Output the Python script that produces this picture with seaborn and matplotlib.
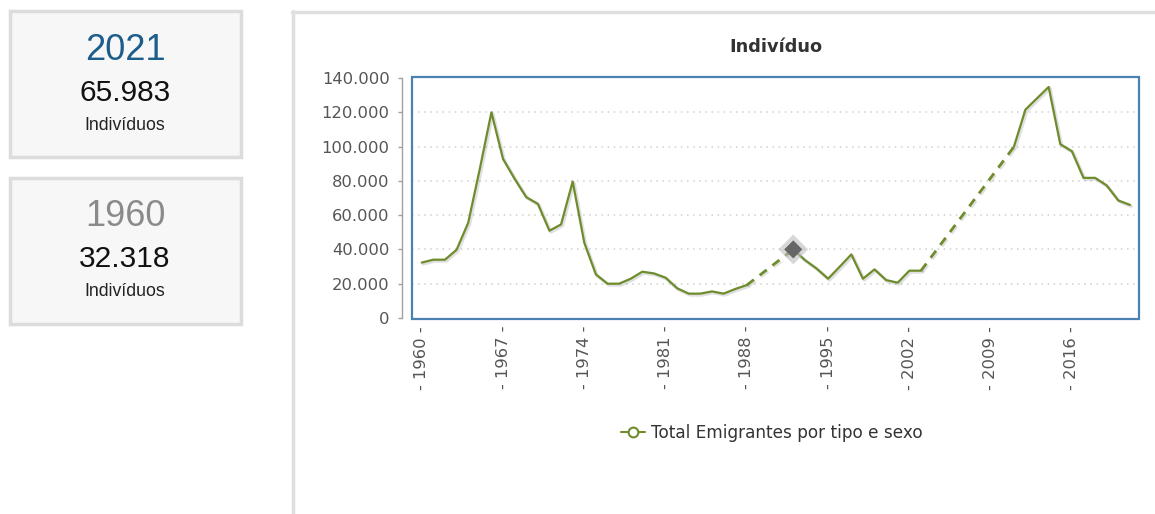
import numpy as np
import pandas as pd
import matplotlib
matplotlib.use("Agg")
import matplotlib.pyplot as plt
import matplotlib.patheffects as pe
from matplotlib.lines import Line2D
from matplotlib.patches import Rectangle
from matplotlib.ticker import FuncFormatter, FixedLocator
import seaborn as sns

# ---------------- data ----------------
years = list(range(1960, 2022))
values = [
    32318, 34000, 34000, 39800, 55500, 87000, 120000, 92800, 81200, 70500,   # 1960-1969
    66600, 50900, 54600, 79600, 43900, 25400, 20000, 20000, 22900, 27000,    # 1970-1979
    26000, 23500, 17300, 14200, 14200, 15500, 14200, 16900, 19200, np.nan,   # 1980-1989
    np.nan, np.nan, 40000, 33800, 28900, 22900, 29900, 37100, 22900, 28350,  # 1990-1999
    22100, 20600, 27600, 27600, np.nan, np.nan, np.nan, np.nan, np.nan, np.nan,  # 2000-2009
    np.nan, 99800, 121600, 128200, 134800, 101400, 97300, 81750, 81750, 77300,  # 2010-2019
    68550, 65983,                                                            # 2020-2021
]
xtick_years = [1960, 1967, 1974, 1981, 1988, 1995, 2002, 2009, 2016]
ytick_values = [0, 20000, 40000, 60000, 80000, 100000, 120000, 140000]
series_name = "Total Emigrantes por tipo e sexo"
title = "Indivíduo"
highlight_year = 1992
card_years = ["2021", "1960"]
card_values = ["65.983", "32.318"]
card_unit = "Indivíduos"

# ---------------- frames ----------------
df = pd.DataFrame({"year": years, "value": values})
df["seg"] = df["value"].isna().cumsum()
valid = df.dropna().reset_index(drop=True)

# dashed bridges across missing years (built from the data)
bridge_rows = []
gid = 0
for i in range(len(valid) - 1):
    if valid.loc[i + 1, "year"] - valid.loc[i, "year"] > 1:
        bridge_rows.append({"year": valid.loc[i, "year"], "value": valid.loc[i, "value"], "g": gid})
        bridge_rows.append({"year": valid.loc[i + 1, "year"], "value": valid.loc[i + 1, "value"], "g": gid})
        gid += 1
bridges = pd.DataFrame(bridge_rows)

# ---------------- style ----------------
sns.set_theme(style="white")
plt.rcParams["font.family"] = ["DejaVu Sans"]

GREEN = "#6f8c2c"
BLUE = "#4a82b4"
GRID = "#cfcfcf"
TXT = "#555555"

W, H = 1155, 514
fig = plt.figure(figsize=(W / 100, H / 100), dpi=100)
fig.patch.set_facecolor("white")

def fx(px):
    return px / W

def fy(py):
    return 1 - py / H

# ---------------- left cards ----------------
for k, (top, bot) in enumerate([(11, 157), (178, 324)]):
    rect = Rectangle((fx(10), fy(bot)), fx(241) - fx(10), fy(top) - fy(bot),
                     transform=fig.transFigure, facecolor="#f7f7f7",
                     edgecolor="#dcdcdc", linewidth=2.5)
    fig.add_artist(rect)
card_styles = [("#1c5d8c", 50, 93, 125), ("#8a8a8a", 216, 259, 291)]
for (col, y1, y2, y3), yr, val in zip(card_styles, card_years, card_values):
    fig.text(fx(125), fy(y1), yr, ha="center", va="center", fontsize=26,
             color=col, family="Liberation Sans")
    fig.text(fx(125), fy(y2), val, ha="center", va="center", fontsize=21.5,
             color="#111111", family="Liberation Sans")
    fig.text(fx(125), fy(y3), card_unit, ha="center", va="center", fontsize=12.8,
             color="#222222", family="Liberation Sans")

# panel border (left + top)
fig.add_artist(Line2D([fx(293), fx(293)], [fy(11), 0], transform=fig.transFigure,
                      color="#e0e0e0", linewidth=2.5))
fig.add_artist(Line2D([fx(292), 1], [fy(11.5), fy(11.5)], transform=fig.transFigure,
                      color="#e0e0e0", linewidth=2.5))

# ---------------- chart axes ----------------
ax = fig.add_axes([fx(412), fy(319), fx(1139) - fx(412), fy(77) - fy(319)])
ax.set_facecolor("white")

shadow = [pe.SimpleLineShadow(offset=(1.0, -1.0), shadow_color="#000000", alpha=0.12, linewidth=2.4),
          pe.Normal()]

sns.lineplot(data=bridges, x="year", y="value", units="g", estimator=None, ax=ax,
             color=GREEN, linewidth=2.0, linestyle=(0, (3.2, 2.6)), legend=False,
             path_effects=shadow)
sns.lineplot(data=valid, x="year", y="value", units="seg", estimator=None, ax=ax,
             color=GREEN, linewidth=1.6, legend=False, path_effects=shadow)

# highlighted point
hl = valid[valid["year"] == highlight_year]
sns.scatterplot(data=hl, x="year", y="value", ax=ax, marker="D", s=230,
                color="#bdbdbd", alpha=0.6, edgecolor="none", legend=False, zorder=5)
sns.scatterplot(data=hl, x="year", y="value", ax=ax, marker="D", s=85,
                color="#666666", edgecolor="none", legend=False, zorder=6)

ax.set_xlim(1959.16, 2021.78)
ax.set_ylim(-600, 140600)

# grid
ax.yaxis.set_major_locator(FixedLocator(ytick_values))
for v in ytick_values[1:-1]:
    ax.axhline(v, color=GRID, linewidth=1.1, linestyle=(0, (1, 3)), zorder=0)

# spines: offset gray y axis, blue frame drawn as rectangle
for s in ["top", "right", "bottom"]:
    ax.spines[s].set_visible(False)
ax.spines["left"].set_position(("outward", 7.2))
ax.spines["left"].set_color("#a0a0a0")
ax.spines["left"].set_linewidth(1.0)
ax.spines["left"].set_bounds(0, 140000)
ax.add_patch(Rectangle((0, 0), 1, 1, transform=ax.transAxes, fill=False,
                       edgecolor=BLUE, linewidth=1.6, clip_on=False, zorder=10))

ax.yaxis.set_major_formatter(FuncFormatter(lambda v, p: f"{int(v):,}".replace(",", ".")))
ax.tick_params(axis="y", left=True, length=3, width=1.0, color="#a0a0a0", pad=6,
               labelsize=11.8, labelcolor=TXT)

ax.xaxis.set_major_locator(FixedLocator(xtick_years))
ax.set_xticklabels([f"- {y} -" for y in xtick_years], rotation=90)
ax.tick_params(axis="x", bottom=False, length=0, pad=5, labelsize=11.8, labelcolor=TXT)
ax.set_xlabel("")
ax.set_ylabel("")

fig.text(fx(776), fy(47), title, ha="center", va="center", fontsize=12.8,
         fontweight="bold", color="#333333")

handle = Line2D([], [], color=GREEN, linewidth=1.5, marker="o", markersize=7,
                markerfacecolor="white", markeredgecolor=GREEN, markeredgewidth=1.5)
fig.legend([handle], [series_name], loc="center", bbox_to_anchor=(fx(772), fy(433)),
           frameon=False, fontsize=12.2, labelcolor="#333333", handlelength=1.4,
           handletextpad=0.4)

fig.savefig("out.png", dpi=100, facecolor="white")
